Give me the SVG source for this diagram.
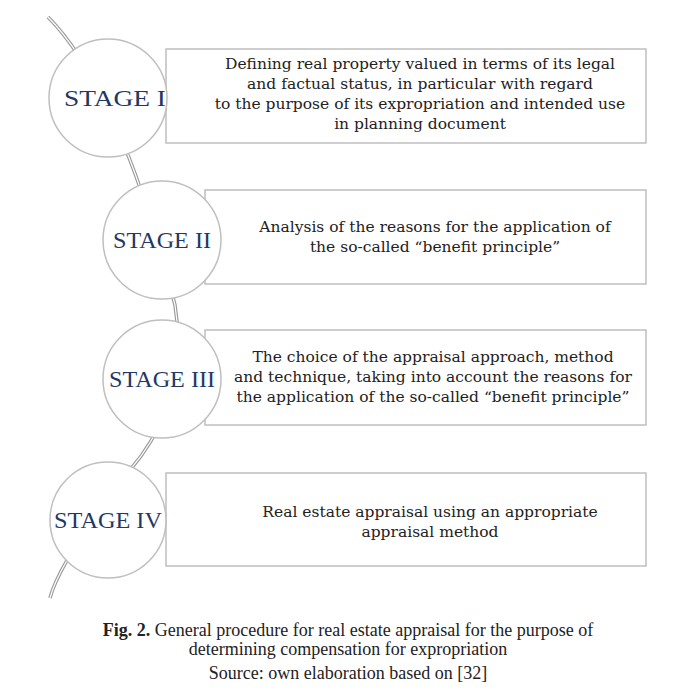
<svg xmlns="http://www.w3.org/2000/svg" width="679" height="694" viewBox="0 0 679 694">
<style>
.box{fill:#fff;stroke:#bfbfbf;stroke-width:1.5}
.c{fill:#fff;stroke:#bfbfbf;stroke-width:1.5}
.st{font-family:"Liberation Serif",serif;font-size:23px;fill:#1f3864;text-anchor:middle}
.t{font-family:"DejaVu Serif","Liberation Serif",serif;font-size:15.5px;fill:#222;text-anchor:middle}
.cap{font-family:"Liberation Serif",serif;font-size:18px;fill:#222;text-anchor:middle}
.ln{fill:none;stroke:#999;stroke-width:3.5}
.ln2{fill:none;stroke:#fff;stroke-width:1.2}
</style>
<g id="connectors">
<path class="ln" d="M48,17 Q120,90 175,305 Q190,400 130,470 Q60,560 50,598"/>
<path class="ln2" d="M48,17 Q120,90 175,305 Q190,400 130,470 Q60,560 50,598"/>
</g>
<g id="box1"><rect class="box" x="166" y="49" width="480" height="94"/>
<text class="t" x="420" y="69">Defining real property valued in terms of its legal</text>
<text class="t" x="420" y="89">and factual status, in particular with regard</text>
<text class="t" x="420" y="109">to the purpose of its expropriation and intended use</text>
<text class="t" x="420" y="129">in planning document</text></g>
<g id="box2"><rect class="box" x="205" y="190" width="441" height="94"/>
<text class="t" x="435" y="232">Analysis of the reasons for the application of</text>
<text class="t" x="435" y="252">the so-called “benefit principle”</text></g>
<g id="box3"><rect class="box" x="205" y="330" width="441" height="95"/>
<text class="t" x="433" y="362">The choice of the appraisal approach, method</text>
<text class="t" x="433" y="382">and technique, taking into account the reasons for</text>
<text class="t" x="433" y="402">the application of the so-called “benefit principle”</text></g>
<g id="box4"><rect class="box" x="166" y="473" width="480" height="93"/>
<text class="t" x="430" y="517">Real estate appraisal using an appropriate</text>
<text class="t" x="430" y="537">appraisal method</text></g>
<g id="stage1"><circle class="c" cx="108" cy="98" r="59"/><text class="st" x="115" y="106" textLength="102" lengthAdjust="spacingAndGlyphs">STAGE I</text></g>
<g id="stage2"><circle class="c" cx="162" cy="240" r="59"/><text class="st" x="162" y="248" textLength="98" lengthAdjust="spacingAndGlyphs">STAGE II</text></g>
<g id="stage3"><circle class="c" cx="162" cy="379" r="59"/><text class="st" x="162" y="387" textLength="106" lengthAdjust="spacingAndGlyphs">STAGE III</text></g>
<g id="stage4"><circle class="c" cx="108" cy="520" r="58"/><text class="st" x="108" y="528" textLength="108" lengthAdjust="spacingAndGlyphs">STAGE IV</text></g>
<g id="caption">
<text class="cap" x="348" y="636"><tspan font-weight="bold">Fig. 2.</tspan> General procedure for real estate appraisal for the purpose of</text>
<text class="cap" x="348" y="655">determining compensation for expropriation</text>
<text class="cap" x="348" y="679" font-size="15">Source: own elaboration based on [32]</text>
</g>
</svg>
